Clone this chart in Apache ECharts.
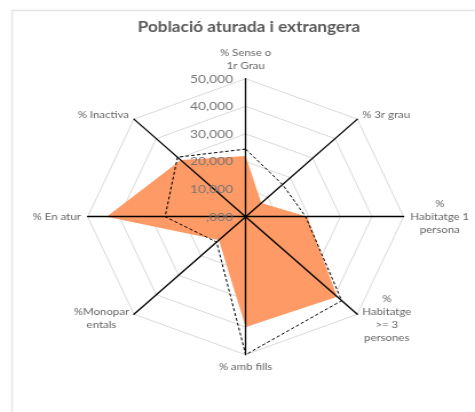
<!DOCTYPE html>
<html>
<head>
<meta charset="utf-8">
<script src="https://cdn.jsdelivr.net/npm/echarts@6/dist/echarts.min.js"></script>
<style>
html, body { margin: 0; padding: 0; background: #fff; overflow: hidden; }
/* the original picture is wider than tall, so the radar is drawn round and stretched */
#main { width: 415px; height: 412px; transform: scaleX(1.1446); transform-origin: 0 0; }
</style>
</head>
<body>
<div id="main"></div>
<script>
// axes, clockwise from the top like in the sheet
var categories = ['% Sense o\n1r Grau', '% 3r grau', '%\nHabitatge 1\npersona', '%\nHabitatge\n>= 3\npersones',
    '% amb fills', '%Monopar\nentals', '% En atur', '% Inactiva'];
var serie1 = [22000, 7000, 19500, 41000, 40000, 12000, 44000, 29000];
var serie2 = [24500, 16500, 19000, 43000, 50000, 13000, 25500, 30500];
var tickLabels = [',000', '10,000', '20,000', '30,000', '40,000', '50,000'];
var axisMax = 50000;

// echarts puts the indicators counter-clockwise, so keep the first and reverse the rest
function ccw(arr) {
    return [arr[0]].concat(arr.slice(1).reverse());
}

var chartDom = document.getElementById('main');
var myChart = echarts.init(chartDom);

var font = 'Lato, "Open Sans", sans-serif';
var center = [214.6, 216.7];
var radius = 138;

var nameLines = function (name) {
    return name.split('\n').map(function (s) { return '{c|' + s + '}'; }).join('\n');
};

var option = {
    animation: false,
    graphic: [
        {
            type: 'rect',
            shape: { x: 10.5, y: 10.5, width: 600, height: 600 },
            style: { fill: 'none', stroke: '#e4e4e4', lineWidth: 1.4 },
            z: -10
        },
        {
            type: 'text',
            style: {
                text: 'Població aturada i extrangera',
                x: 217.5, y: 20,
                align: 'center', verticalAlign: 'top',
                fill: '#595959',
                font: 'bold 15px ' + font
            }
        }
    ],
    radar: [
        {
            // grid and axis names, below the series
            center: center,
            radius: radius,
            startAngle: 90,
            shape: 'polygon',
            splitNumber: 5,
            indicator: ccw(categories).map(function (n) {
                return { name: n, min: 0, max: axisMax };
            }),
            nameGap: 6,
            axisName: {
                formatter: nameLines,
                color: '#666666',
                fontSize: 10,
                fontFamily: font,
                lineHeight: 13,
                rich: {
                    c: { align: 'center', color: '#666666', fontSize: 10, fontFamily: font, lineHeight: 13 }
                }
            },
            splitLine: { lineStyle: { color: '#d9d9d9', width: 1 } },
            splitArea: { show: false },
            axisLine: { show: false },
            axisTick: { show: false },
            axisLabel: { show: false },
            z: 0
        },
        {
            // black spokes and value labels, above the filled series
            center: center,
            radius: radius,
            startAngle: 90,
            shape: 'polygon',
            splitNumber: 5,
            indicator: ccw(categories).map(function (n, i) {
                return { name: n, min: 0, max: axisMax, axisLabel: { show: i === 0 } };
            }),
            axisName: { show: false },
            splitLine: { show: false },
            splitArea: { show: false },
            axisLine: { lineStyle: { color: '#000', width: 1.3 } },
            axisTick: { show: false },
            axisLabel: {
                show: true,
                margin: 11,
                color: '#767676',
                fontSize: 12,
                fontFamily: font,
                formatter: function (v) {
                    return tickLabels[Math.round(v / 10000)];
                }
            },
            z: 3
        }
    ],
    series: [
        {
            type: 'radar',
            radarIndex: 0,
            z: 2,
            symbol: 'none',
            data: [{
                name: 'Sèrie 1',
                value: ccw(serie1),
                lineStyle: { width: 0, opacity: 0 },
                areaStyle: { color: '#fd9a65', opacity: 1 }
            }]
        },
        {
            type: 'radar',
            radarIndex: 0,
            z: 4,
            symbol: 'none',
            data: [{
                name: 'Sèrie 2',
                value: ccw(serie2),
                lineStyle: { color: '#000', width: 1, type: [3, 2] }
            }]
        }
    ]
};

option && myChart.setOption(option);
</script>
</body>
</html>
